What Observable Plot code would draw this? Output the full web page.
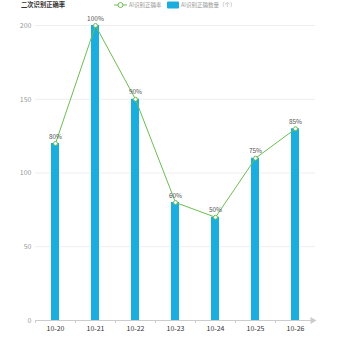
<!DOCTYPE html>
<html>
<head>
<meta charset="utf-8">
<script src="https://cdn.jsdelivr.net/npm/d3@7"></script>
<script src="https://cdn.jsdelivr.net/npm/@observablehq/plot@0.6"></script>
<style>
  body { margin: 0; background: #fff; font-family: "Noto Sans CJK SC", "Noto Sans", sans-serif; }
  #wrap { position: relative; width: 350px; height: 350px; }
  #head { position: absolute; left: 0; top: 0; width: 350px; height: 12px; }
</style>
</head>
<body>
<div id="wrap">
  <div id="chart"></div>
  <svg id="head" width="350" height="12" font-family='"Noto Sans CJK SC", "Noto Sans", sans-serif'>
    <text x="21" y="7" font-size="6.3" font-weight="bold" fill="#333">二次识别正确率</text>
    <line x1="114" y1="5" x2="127" y2="5" stroke="#6cbd52" stroke-width="1"/>
    <circle cx="120.5" cy="5" r="2.5" fill="#fff" stroke="#6cbd52" stroke-width="1"/>
    <text x="129" y="7" font-size="5.5" fill="#999">AI识别正确率</text>
    <rect x="167" y="1.5" width="12" height="7" rx="1" fill="#1aaedf"/>
    <text x="181" y="7" font-size="5.5" fill="#999">AI识别正确数量（个）</text>
  </svg>
</div>
<script>
const dates = ["10-20", "10-21", "10-22", "10-23", "10-24", "10-25", "10-26"];
const counts = [120, 200, 150, 80, 70, 110, 130];
const rates = ["80%", "100%", "90%", "60%", "50%", "75%", "85%"];
const yTicks = [0, 50, 100, 150, 200];

const data = dates.map((d, i) => ({date: d, count: counts[i], rate: rates[i]}));
const green = "#6cbd52";
const blue = "#1aaedf";

const chart = Plot.plot({
  width: 350,
  height: 350,
  marginTop: 25,
  marginBottom: 30,
  marginLeft: 35,
  marginRight: 35,
  style: {fontFamily: '"Noto Sans CJK SC", "Noto Sans", sans-serif', background: "#fff"},
  x: {type: "band", domain: dates, padding: 0, label: null},
  y: {domain: [0, 200], label: null},
  marks: [
    Plot.gridY(yTicks.slice(1), {stroke: "#eeeeee", strokeOpacity: 1}),
    Plot.axisY(yTicks, {tickSize: 0, tickPadding: 4, fill: "#999", fontSize: 7, label: null}),
    Plot.ruleY([0], {stroke: "#cccccc"}),
    Plot.dot([dates[dates.length - 1]], {x: d => d, y: 0, dx: 17, symbol: "triangle", rotate: 90, r: 2.6, fill: "#cccccc", stroke: null}),
    Plot.axisX({tickSize: 3, text: null, dx: -20, stroke: "#cccccc", label: null}),
    Plot.axisX({tickSize: 0, tickPadding: 6, fill: "#333", fontSize: 7, label: null}),
    Plot.barY(data, {x: "date", y: "count", fill: blue, insetLeft: 16, insetRight: 16}),
    Plot.line(data, {x: "date", y: "count", stroke: green, strokeWidth: 1}),
    Plot.dot(data, {x: "date", y: "count", r: 2, stroke: green, fill: "#fff", strokeWidth: 1}),
    Plot.text(data, {x: "date", y: "count", text: "rate", dy: -7, fontSize: 6.5, fill: "#555"})
  ]
});
document.getElementById("chart").appendChild(chart);
</script>
</body>
</html>
